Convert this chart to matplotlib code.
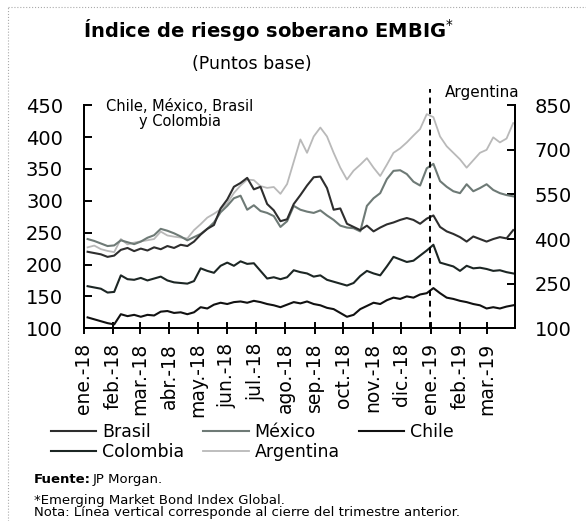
import numpy as np
import pandas as pd
import matplotlib
matplotlib.use("Agg")
import matplotlib.pyplot as plt
from matplotlib.lines import Line2D

# weekly data (bps)
fechas = pd.date_range("2018-01-05", periods=65, freq="7D")

chile = [117, 114, 111, 108, 106, 122, 119, 121, 118, 121, 120, 126, 127, 124, 125, 122,
         125, 133, 131, 137, 140, 138, 141, 142, 140, 143, 141, 138, 136, 133, 137, 141,
         139, 142, 138, 136, 132, 130, 124, 118, 121, 130, 135, 140, 138, 144, 148, 146,
         150, 148, 153, 155, 163, 155, 148, 146, 143, 141, 138, 136, 131, 133, 131, 134, 136]

colombia = [166, 164, 162, 156, 157, 183, 177, 176, 179, 175, 178, 181, 175, 172, 171, 170,
            174, 194, 190, 187, 198, 203, 198, 205, 201, 202, 190, 178, 180, 177, 180, 191,
            188, 186, 181, 183, 176, 173, 170, 167, 171, 182, 190, 186, 183, 197, 212, 208,
            204, 206, 214, 222, 231, 203, 200, 197, 190, 198, 194, 195, 193, 190, 191, 188, 186]

brasil = [220, 218, 216, 212, 214, 223, 226, 221, 225, 222, 227, 224, 229, 226, 231, 229,
          236, 247, 256, 262, 288, 302, 322, 328, 336, 318, 322, 295, 285, 268, 271, 295,
          309, 324, 337, 338, 320, 286, 288, 264, 259, 254, 261, 252, 258, 263, 266, 270,
          273, 270, 264, 272, 277, 259, 252, 248, 243, 236, 244, 240, 236, 240, 243, 241, 254]

mexico = [240, 237, 233, 229, 230, 238, 235, 232, 236, 242, 246, 256, 253, 249, 244, 238,
          243, 248, 256, 266, 282, 292, 304, 308, 286, 293, 284, 281, 276, 259, 268, 292,
          286, 283, 281, 285, 277, 270, 261, 258, 257, 252, 292, 304, 312, 334, 347, 348,
          342, 330, 324, 351, 358, 331, 322, 315, 312, 326, 315, 320, 326, 317, 312, 309, 307]

# eje derecho
argentina = [372, 378, 366, 360, 356, 400, 382, 388, 392, 396, 400, 425, 412, 408, 405, 402,
             430, 450, 472, 485, 500, 520, 555, 580, 600, 598, 578, 572, 575, 552, 585, 660,
             735, 690, 745, 775, 745, 690, 640, 600, 630, 650, 672, 640, 612, 650, 690, 705,
             725, 748, 770, 820, 810, 745, 712, 690, 668, 640, 665, 690, 700, 742, 725, 738, 790]

meses = pd.date_range("2018-01-01", "2019-03-01", freq="MS")
etiquetas = ["ene.-18", "feb.-18", "mar.-18", "abr.-18", "may.-18", "jun.-18", "jul.-18",
             "ago.-18", "sep.-18", "oct.-18", "nov.-18", "dic.-18", "ene.-19", "feb.-19", "mar.-19"]

plt.rcParams["font.family"] = ["DejaVu Sans"]

fig = plt.figure(figsize=(5.86, 5.21), dpi=100)
ax = fig.add_axes([0.143, 0.370, 0.736, 0.428])
ax2 = ax.twinx()

c_bra = "#2e2e2e"
c_mex = "#6e7a76"
c_chi = "#111111"
c_col = "#1c2624"
c_arg = "#b9b9b9"

l_arg, = ax2.plot(fechas, argentina, color=c_arg, lw=1.3, label="Argentina")
l_mex, = ax.plot(fechas, mexico, color=c_mex, lw=1.5, label="México")
l_bra, = ax.plot(fechas, brasil, color=c_bra, lw=1.5, label="Brasil")
l_col, = ax.plot(fechas, colombia, color=c_col, lw=1.5, label="Colombia")
l_chi, = ax.plot(fechas, chile, color=c_chi, lw=1.5, label="Chile")
ax.set_zorder(ax2.get_zorder() + 1)
ax.patch.set_visible(False)

ax.set_xlim(pd.Timestamp("2018-01-01"), pd.Timestamp("2019-03-31"))
ax.set_ylim(100, 450)
ax2.set_ylim(100, 850)
ax.set_yticks(range(100, 451, 50))
ax2.set_yticks(range(100, 851, 150))
ax.set_xticks(meses)
ax.set_xticklabels(etiquetas, rotation=90, fontsize=13.5)

for a in (ax, ax2):
    a.spines["top"].set_visible(False)
    for s in ("left", "right", "bottom"):
        a.spines[s].set_linewidth(1.4)
ax.tick_params(axis="y", direction="in", length=6, width=1.4, labelsize=14, pad=15)
ax2.tick_params(axis="y", direction="in", length=6, width=1.4, labelsize=14, pad=14)
ax.tick_params(axis="x", direction="inout", length=9, width=1.4, pad=6)

# linea vertical: cierre del trimestre anterior
ax.axvline(pd.Timestamp("2018-12-31"), ymin=0, ymax=1.075, color="black", lw=1.4,
           ls=(0, (3, 2.5)), clip_on=False, zorder=5)

ax.text(0.223, 1.03, "Chile, México, Brasil\ny Colombia", transform=ax.transAxes,
        ha="center", va="top", fontsize=10.5, linespacing=1.0)
ax.text(0.923, 1.025, "Argentina", transform=ax.transAxes, ha="center", va="bottom",
        fontsize=11)

fig.text(0.459, 0.942, "Índice de riesgo soberano EMBIG$^{*}$", ha="center", va="center",
         fontsize=14, fontweight="bold")
fig.text(0.43, 0.877, "(Puntos base)", ha="center", va="center", fontsize=12.5)

fig.legend([l_bra, l_col, l_mex, l_arg, l_chi],
           ["Brasil", "Colombia", "México", "Argentina", "Chile"],
           ncol=3, loc="upper left", bbox_to_anchor=(0.087, 0.188), frameon=False,
           fontsize=12.5, handlelength=2.6, handletextpad=0.35, columnspacing=1.1,
           labelspacing=0.1, borderpad=0, borderaxespad=0)

t_fuente = fig.text(0.058, 0.079, "Fuente:", fontsize=9.5, fontweight="bold", va="center")
ax.annotate("JP Morgan.", xy=(1, 0.5), xycoords=t_fuente, xytext=(1.5, 0),
            textcoords="offset points", fontsize=9.5, va="center", ha="left")
fig.text(0.058, 0.040, "*Emerging Market Bond Index Global.", fontsize=9.5, va="center")
fig.text(0.058, 0.004, "Nota: Línea vertical corresponde al cierre del trimestre anterior.",
         fontsize=9.5, va="bottom")

# marco punteado
fig.add_artist(Line2D([0.014, 0.014], [0, 0.987], color="#aaaaaa", lw=0.8, ls=":"))
fig.add_artist(Line2D([0.014, 1.0], [0.987, 0.987], color="#aaaaaa", lw=0.8, ls=":"))

fig.savefig("out.png", dpi=100)
